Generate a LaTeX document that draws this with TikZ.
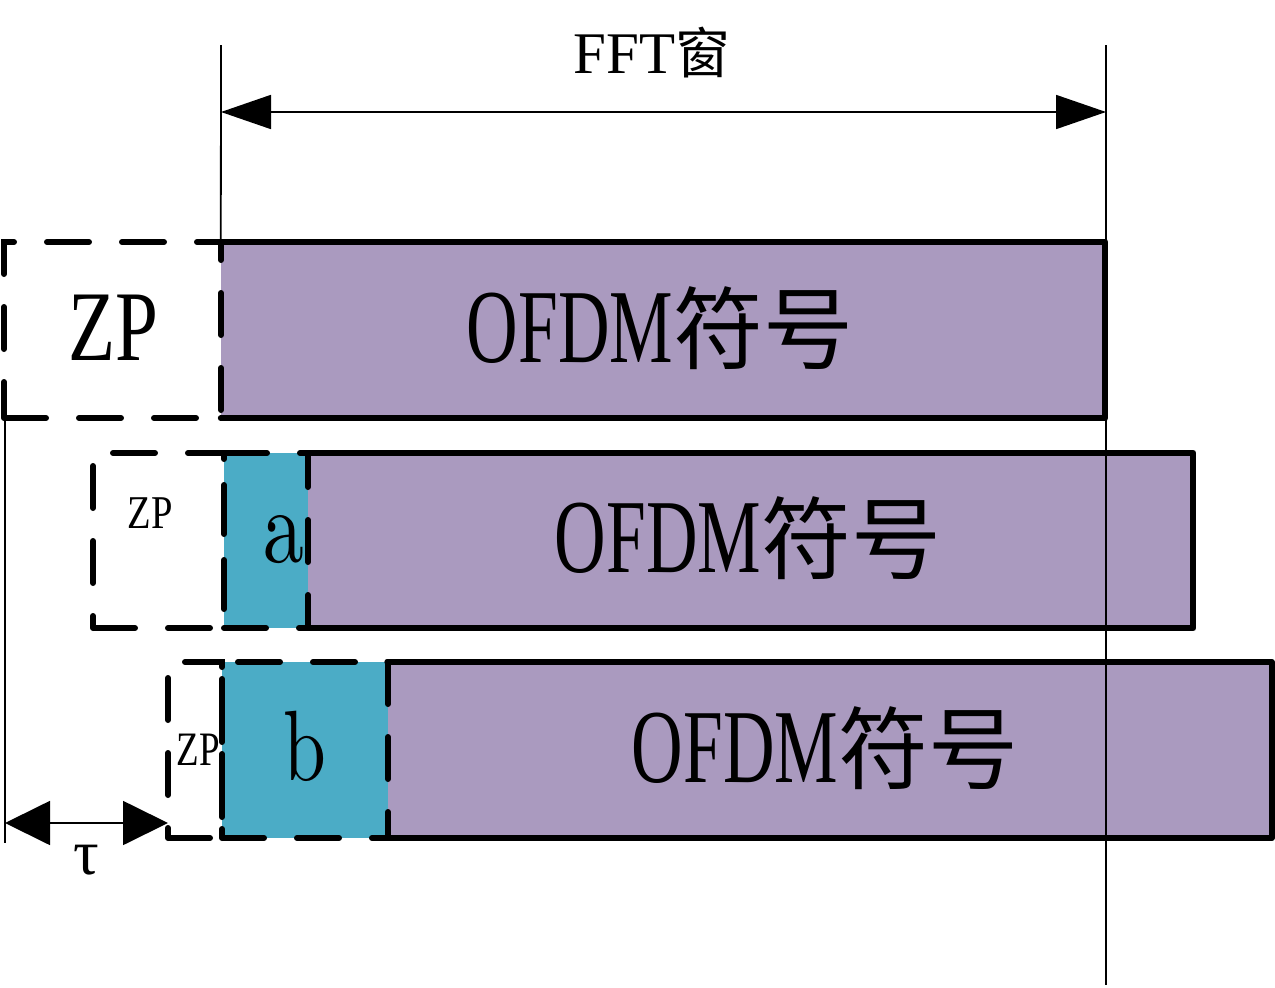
\documentclass[tikz,border=0pt]{standalone}
\usepackage[no-math]{fontspec}
\setmainfont{Liberation Serif}
\newfontfamily\cjk{Noto Sans CJK SC}
\usetikzlibrary{arrows.meta}
\definecolor{symfill}{HTML}{AA9ABF}
\definecolor{cpfill}{HTML}{4BACC6}
\tikzset{
  symbox/.style={fill=symfill, draw=none, inner sep=0pt},
  cpbox/.style={fill=cpfill, draw=none, inner sep=0pt},
  solidedge/.style={line width=6pt, line join=round, line cap=round},
  dashbox/.style={draw, line width=6pt, dash pattern=on 42pt off 33pt, line cap=round, inner sep=0pt, fill=none},
  thinline/.style={line width=1.8pt},
  fftdim/.style={thinline, {Triangle[length=50pt,width=34pt]}-{Triangle[length=50pt,width=34pt]}},
  taudim/.style={thinline, {Triangle[length=45pt,width=44pt]}-{Triangle[length=45pt,width=44pt]}},
  lbl/.style={anchor=base, inner sep=0pt}
}
\newcommand{\ofdmtext}{{\fontsize{105pt}{110pt}\selectfont\scalebox{0.68}[1]{OFDM}}{\cjk\fontsize{90pt}{95pt}\selectfont 符号}}
\begin{document}
\begin{tikzpicture}[x=1pt,y=-1pt]
\useasboundingbox (0,0) rectangle (1275,988);
% purple symbol fills
\node[symbox, minimum width=884pt, minimum height=176pt] (sym1) at (663,330) {};
\node[symbox, minimum width=885pt, minimum height=175pt] (sym2) at (750.5,540.5) {};
\node[symbox, minimum width=884pt, minimum height=176pt] (sym3) at (829.5,750) {};
% cyan parts
\node[cpbox, minimum width=84pt, minimum height=175pt] (cpa) at (266,540.5) {};
\node[cpbox, minimum width=166pt, minimum height=176pt] (cpb) at (305,750) {};
% solid outlines of symbols (left side shared with dashed boxes)
\draw[solidedge] (sym1.north west) -- (sym1.north east) -- (sym1.south east) -- (sym1.south west);
\draw[solidedge] (sym2.north west) -- (sym2.north east) -- (sym2.south east) -- (sym2.south west);
\draw[solidedge] (sym3.north west) -- (sym3.north east) -- (sym3.south east) -- (sym3.south west);
% dashed ZP boxes and dashed cyan outlines
\node[dashbox, minimum width=217pt, minimum height=176pt] (zp1) at (112.5,330) {};
\node[dashbox, minimum width=131pt, minimum height=175pt] (zp2) at (158.5,540.5) {};
\node[dashbox, minimum width=54pt, minimum height=176pt] (zp3) at (195,750) {};
\node[dashbox, minimum width=84pt, minimum height=175pt] (cpad) at (266,540.5) {};
\node[dashbox, minimum width=166pt, minimum height=176pt] (cpbd) at (305,750) {};
% texts
\node[lbl] (t1) at (660,362) {\ofdmtext};
\node[lbl] (t2) at (748,572) {\ofdmtext};
\node[lbl] (t3) at (825,782) {\ofdmtext};
\node[lbl] (z1) at (113,360) {\fontsize{100pt}{105pt}\selectfont\scalebox{0.77}[1]{ZP}};
\node[lbl] (z2) at (150,528) {\fontsize{47pt}{50pt}\selectfont\scalebox{0.82}[1]{ZP}};
\node[lbl] (z3) at (198,765) {\fontsize{48pt}{50pt}\selectfont\scalebox{0.77}[1]{ZP}};
\node[lbl] (la) at (283,562) {\scalebox{8.2}[10.5]{$\mathrm{a}$}};
\node[lbl] (lb) at (305,780) {\scalebox{7.7}[10]{$\mathrm{b}$}};
\node[lbl] (fft) at (652,73) {{\fontsize{59pt}{60pt}\selectfont FFT}{\cjk\fontsize{55pt}{56pt}\selectfont 窗}};
% reference lines
\coordinate (vlt) at (221,45);
\coordinate (vrt) at (1106,45);
\coordinate (vrb) at (1106,985);
\coordinate (llb) at (5,843);
\coordinate (llt) at (5,418);
\draw[thinline] (vlt) -- (sym1.north west);
\draw[thinline] (vrt) -- (vrb);
\draw[thinline] (llt) -- (llb);
% FFT window dimension
\coordinate (fftL) at (221,112);
\coordinate (fftR) at (1106,112);
\draw[fftdim] (fftL) -- (fftR);
% tau dimension
\coordinate (tauL) at (5,823);
\coordinate (tauR) at (168,823);
\draw[taudim] (tauL) -- (tauR);
\node[lbl] (tau) at (86,874) {\fontsize{64pt}{66pt}\selectfont τ};
\end{tikzpicture}
\end{document}
